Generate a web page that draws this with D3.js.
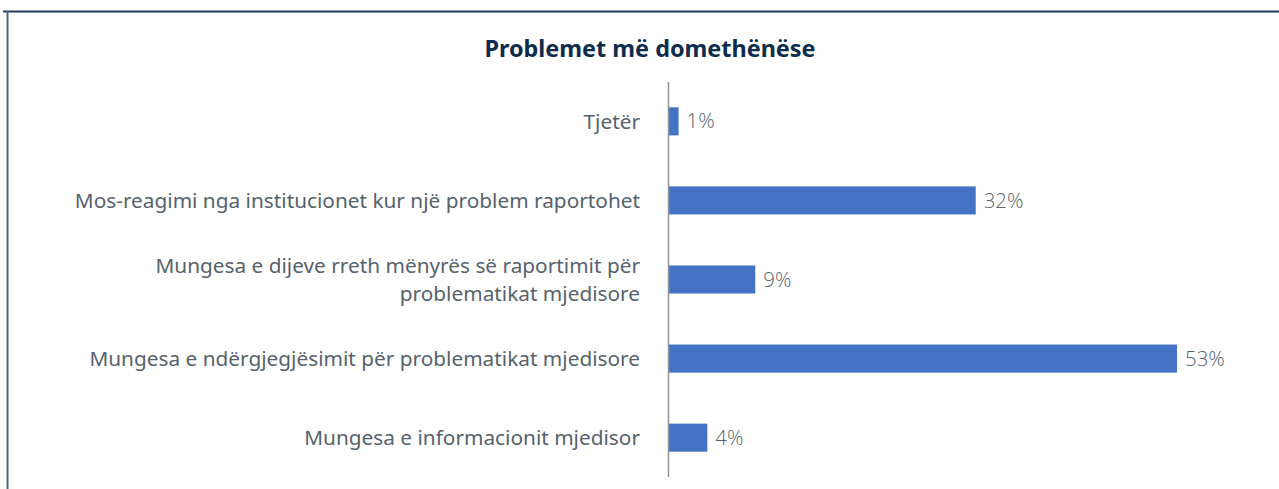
<!DOCTYPE html>
<html>
<head>
<meta charset="utf-8">
<script src="https://cdn.jsdelivr.net/npm/d3@7"></script>
<style>
  body { margin: 0; background: #fff; }
  svg { display: block; }
</style>
</head>
<body>
<script>
// data
var categories = [
  "Tjetër",
  "Mos-reagimi nga institucionet kur një problem raportohet",
  "Mungesa e dijeve rreth mënyrës së raportimit për|problematikat mjedisore",
  "Mungesa e ndërgjegjësimit për problematikat mjedisore",
  "Mungesa e informacionit mjedisor"
];
var values = [1, 32, 9, 53, 4];
var chartTitle = "Problemet më domethënëse";

var width = 1279,
  height = 489;

var svg = d3.select("body").append("svg")
  .attr("width", width)
  .attr("height", height);

// frame lines (top and left)
svg.append("line")
  .attr("x1", 3).attr("x2", width).attr("y1", 11.5).attr("y2", 11.5)
  .attr("stroke", "#1f3a5c").attr("stroke-width", 2);
svg.append("line")
  .attr("x1", 7.5).attr("x2", 7.5).attr("y1", 11).attr("y2", height)
  .attr("stroke", "#4a6482").attr("stroke-width", 2);

svg.append("text")
  .attr("x", 650)
  .attr("y", 57)
  .attr("text-anchor", "middle")
  .style("font-family", "'Noto Sans', sans-serif")
  .style("font-weight", "bold")
  .style("font-size", "23.4px")
  .style("fill", "#0d2c4e")
  .text(chartTitle);

var x = d3.scaleLinear()
  .domain([0, 53])
  .range([669, 1177]);

var y = d3.scaleBand()
  .domain(categories)
  .range([82, 477])
  .paddingInner(0.645)
  .paddingOuter(0.32);

svg.selectAll(".bar")
    .data(values)
  .enter().append("rect")
    .attr("class", "bar")
    .attr("x", x(0))
    .attr("y", function(d, i) { return y(categories[i]); })
    .attr("width", function(d) { return x(d) - x(0); })
    .attr("height", y.bandwidth())
    .style("fill", "#4472c4");

// vertical axis line
svg.append("line")
  .attr("x1", x(0) - 0.5).attr("x2", x(0) - 0.5)
  .attr("y1", 82).attr("y2", 477)
  .attr("stroke", "#8c949c").attr("stroke-width", 1.5);

// category labels
var labels = svg.selectAll(".cat")
    .data(categories)
  .enter().append("text")
    .attr("class", "cat")
    .attr("text-anchor", "end")
    .style("font-family", "'Noto Sans', sans-serif")
    .style("font-size", "20.8px")
    .style("fill", "#56626c")
    .attr("transform", function(d) {
      return "translate(640," + (y(d) + y.bandwidth() / 2) + ")";
    });

labels.each(function(d) {
  var lines = d.split("|");
  var t = d3.select(this);
  lines.forEach(function(line, j) {
    t.append("tspan")
      .attr("x", 0)
      .attr("y", (j - (lines.length - 1) / 2) * 28)
      .attr("dy", "0.35em")
      .text(line);
  });
});

// value labels
svg.selectAll(".val")
    .data(values)
  .enter().append("text")
    .attr("class", "val")
    .attr("x", function(d) { return x(d) + 8; })
    .attr("y", function(d, i) { return y(categories[i]) + y.bandwidth() / 2; })
    .attr("dy", "0.35em")
    .style("font-family", "'Open Sans', sans-serif")
    .style("font-weight", 300)
    .style("font-size", "20.4px")
    .style("fill", "#56626c")
    .text(function(d) { return d + "%"; });
</script>
</body>
</html>
